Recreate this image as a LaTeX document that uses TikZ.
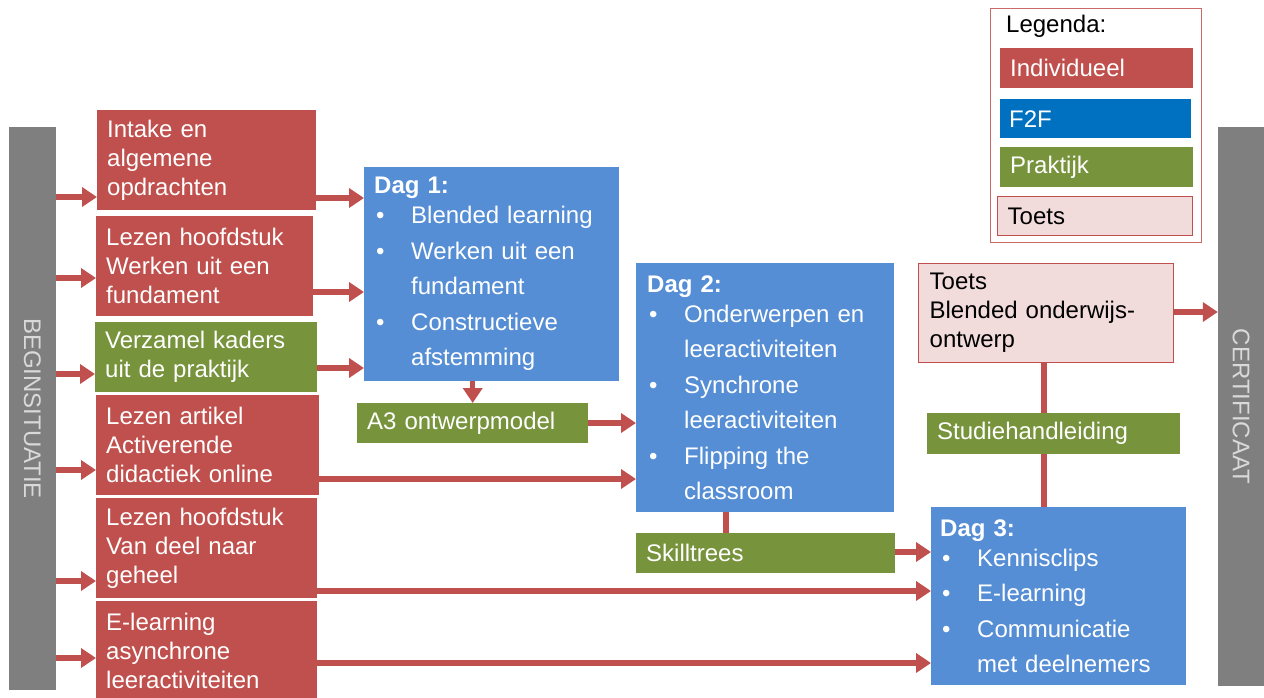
\documentclass[tikz,border=0pt]{standalone}
\usepackage{fontspec}
\setmainfont{Liberation Sans}
\usetikzlibrary{arrows.meta}
\definecolor{ired}{HTML}{C0504D}
\definecolor{pgreen}{HTML}{77933C}
\definecolor{dblue}{HTML}{558ED5}
\definecolor{fblue}{HTML}{0070C0}
\definecolor{tpink}{HTML}{F2DCDB}
\definecolor{bgray}{HTML}{7F7F7F}
\definecolor{btext}{HTML}{D9D9D9}
\newcommand\bul{\makebox[37pt][l]{\hspace{2pt}\textbullet}}
\newcommand\ind{\hspace*{37pt}}
\tikzset{
  box/.style={anchor=north west, inner xsep=10pt, inner ysep=0pt, align=left, text=white, font=\fontsize{24}{29}\selectfont},
  redbox/.style={box, fill=ired},
  greenbox/.style={box, fill=pgreen},
  bluebox/.style={box, fill=dblue, font=\fontsize{24}{35.5}\selectfont},
  pinkbox/.style={box, fill=tpink, draw=ired, line width=1.3pt, text=black},
  bar/.style={fill=bgray, rotate=-90, inner sep=0pt, text=btext, font=\fontsize{24}{29}\selectfont},
  arr/.style={draw=ired, line width=5.5pt, -{Triangle[length=15pt,width=19pt]}},
  conn/.style={draw=ired, line width=5.5pt}
}
\begin{document}
\begin{tikzpicture}[x=1pt,y=-1pt]
\useasboundingbox (0,0) rectangle (1264,697);
% bars
\node[bar, minimum width=563pt, minimum height=47pt] (begin) at (32.5,408.5) {BEGINSITUATIE};
\node[bar, minimum width=559pt, minimum height=46pt] (cert) at (1241,406.5) {CERTIFICAAT};
% left column
\node[redbox, text width=199pt, minimum height=100pt] (intake) at (97,110) {Intake en\\algemene\\opdrachten};
\node[redbox, text width=197pt, minimum height=100pt] (lezen1) at (96,216) {Lezen hoofdstuk\\Werken uit een\\fundament};
\node[greenbox, text width=202pt, minimum height=70pt] (verzamel) at (95,322) {Verzamel kaders\\uit de praktijk};
\node[redbox, text width=203pt, minimum height=100pt] (artikel) at (96,395) {Lezen artikel\\Activerende\\didactiek online};
\node[redbox, text width=201pt, minimum height=100pt] (lezen2) at (96,498) {Lezen hoofdstuk\\Van deel naar\\geheel};
\node[redbox, text width=201pt, minimum height=100pt] (elearn) at (96,601) {E-learning\\asynchrone\\leeractiviteiten};
% days
\node[bluebox, text width=235pt, minimum height=214pt] (dag1) at (364,167)
  {\textbf{Dag 1:}\\[-5.5pt]\bul Blended learning\\\bul Werken uit een\\\ind fundament\\\bul Constructieve\\\ind afstemming};
\node[greenbox, text width=211pt, minimum height=40pt] (a3) at (357,403) {A3 ontwerpmodel};
\node[bluebox, text width=236pt, minimum height=249pt, inner xsep=11pt] (dag2) at (636,263)
  {\textbf{Dag 2:}\\[-5.5pt]\bul Onderwerpen en\\\ind leeractiviteiten\\\bul Synchrone\\\ind leeractiviteiten\\\bul Flipping the\\\ind classroom};
\node[greenbox, text width=239pt, minimum height=40pt] (skill) at (636,533) {Skilltrees};
\node[bluebox, text width=237pt, minimum height=178pt, inner xsep=9pt] (dag3) at (931,507)
  {\textbf{Dag 3:}\\[-5.5pt]\bul Kennisclips\\\bul E-learning\\\bul Communicatie\\\ind met deelnemers};
\node[pinkbox, text width=233pt, minimum height=99pt, inner xsep=11pt] (toets) at (918,263) {Toets\\Blended onderwijs-\\ontwerp};
\node[greenbox, text width=233pt, minimum height=41pt] (studie) at (927,413) {Studiehandleiding};
% legend
\node[anchor=north west, draw=ired!85, line width=1.2pt, minimum width=211pt, minimum height=234pt, inner sep=0pt] (legend) at (990,8) {};
\node[anchor=west, inner sep=0pt, font=\fontsize{24}{29}\selectfont] (legtitle) at (1006,26) {Legenda:};
\node[redbox, text width=173pt, minimum height=40pt] (lind) at (1000,48) {Individueel};
\node[box, fill=fblue, text width=173pt, minimum height=39pt, inner xsep=9pt] (lf2f) at (1000,99) {F2F};
\node[greenbox, text width=173pt, minimum height=40pt] (lprak) at (1000,147) {Praktijk};
\node[pinkbox, text width=175pt, minimum height=39pt] (ltoets) at (997,196) {Toets};
% arrows from begin situation
\draw[arr] (begin.north |- 0,197) -- (intake.west |- 0,197);
\draw[arr] (begin.north |- 0,278) -- (lezen1.west |- 0,278);
\draw[arr] (begin.north |- 0,374) -- (verzamel.west |- 0,374);
\draw[arr] (begin.north |- 0,470) -- (artikel.west |- 0,470);
\draw[arr] (begin.north |- 0,581) -- (lezen2.west |- 0,581);
\draw[arr] (begin.north |- 0,658) -- (elearn.west |- 0,658);
% to dag 1
\draw[arr] (intake.east |- 0,198) -- (dag1.west |- 0,198);
\draw[arr] (lezen1.east |- 0,292) -- (dag1.west |- 0,292);
\draw[arr] (verzamel.east |- 0,368) -- (dag1.west |- 0,368);
\draw[arr] (a3.north |- dag1.south) -- (a3.north);
% to dag 2
\draw[arr] (a3.east |- 0,423) -- (dag2.west |- 0,423);
\draw[arr] (artikel.east |- 0,479) -- (dag2.west |- 0,479);
\draw[conn] (dag2.south -| 726,0) -- (skill.north -| 726,0);
% to dag 3
\draw[arr] (skill.east |- 0,552) -- (dag3.west |- 0,552);
\draw[arr] (lezen2.east |- 0,591) -- (dag3.west |- 0,591);
\draw[arr] (elearn.east |- 0,663) -- (dag3.west |- 0,663);
% toets
\draw[conn] (toets.south -| 1044,0) -- (studie.north -| 1044,0);
\draw[conn] (studie.south -| 1044,0) -- (dag3.north -| 1044,0);
\draw[arr] (toets.east |- 0,312) -- (cert.south |- 0,312);
\end{tikzpicture}
\end{document}
